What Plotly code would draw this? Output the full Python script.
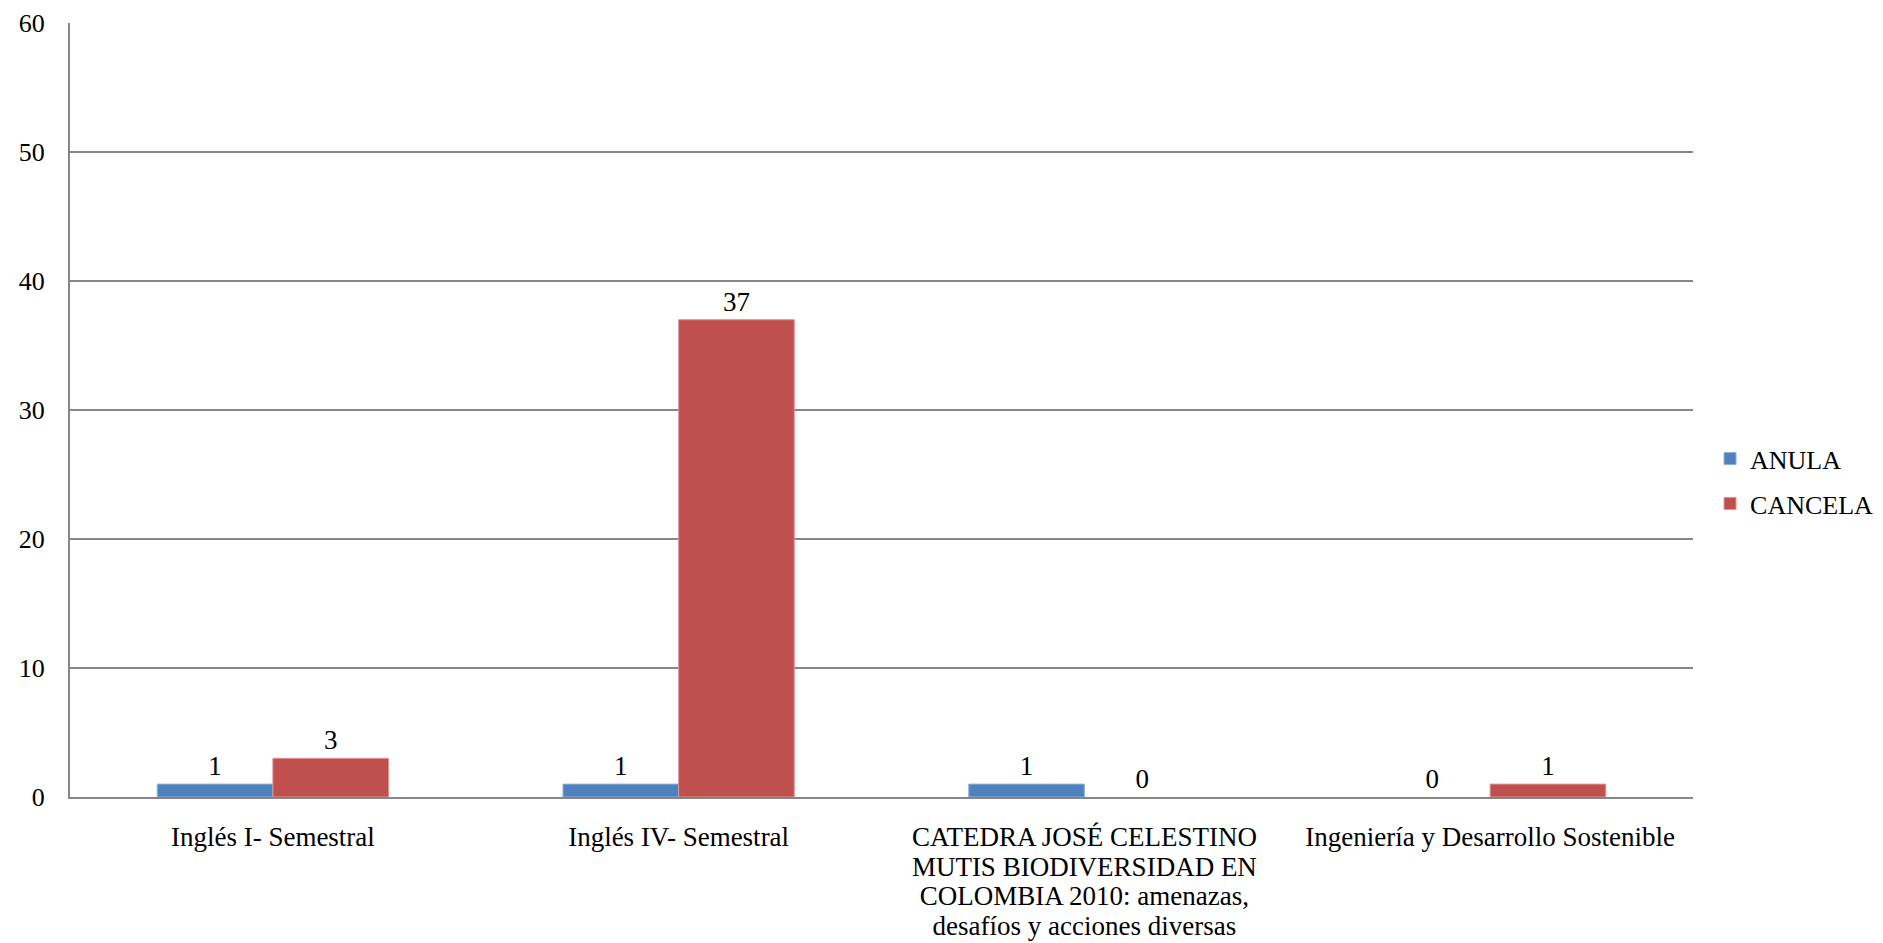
import plotly.graph_objects as go

categories = [
    "Inglés I- Semestral",
    "Inglés IV- Semestral",
    "CATEDRA JOSÉ CELESTINO<br>MUTIS BIODIVERSIDAD EN<br>COLOMBIA 2010: amenazas,<br>desafíos y acciones diversas",
    "Ingeniería y Desarrollo Sostenible",
]
anula = [1, 1, 1, 0]
cancela = [3, 37, 0, 1]
y_ticks = [0, 10, 20, 30, 40, 50, 60]

FONT = "Liberation Serif"
FS = 27


def edge_widths(vals):
    return [0 if v == 0 else 1 for v in vals]


def big(label):
    return "<br>".join('<span style="font-size:%dpx">%s</span>' % (FS, part) for part in label.split("<br>"))


fig = go.Figure()
fig.add_trace(go.Bar(name="ANULA", x=categories, y=anula, text=anula, legendgroup="a",
                     textposition="outside",
                     marker=dict(color="#4F81BD", line=dict(width=edge_widths(anula), color="#8FB0DA")),
                     textfont=dict(size=FS, color="black", family=FONT), cliponaxis=False))
fig.add_trace(go.Bar(name="CANCELA", x=categories, y=cancela, text=cancela, legendgroup="c",
                     textposition="outside",
                     marker=dict(color="#C0504D", line=dict(width=edge_widths(cancela), color="#DC9593")),
                     textfont=dict(size=FS, color="black", family=FONT), cliponaxis=False))

fig.update_layout(
    width=1883, height=943,
    margin=dict(l=62, r=198, t=15, b=154),
    barmode="group", bargap=0.43, bargroupgap=0,
    plot_bgcolor="white", paper_bgcolor="white",
    font=dict(family=FONT, size=FS, color="black"),
    showlegend=True,
    legend=dict(x=1.0105, y=0.408, xanchor="left", yanchor="middle",
                font=dict(size=26, family=FONT), itemwidth=30, tracegroupgap=8,
                traceorder="grouped", bgcolor="rgba(0,0,0,0)"),
)
fig.update_xaxes(showline=True, linecolor="#868686", linewidth=2, showgrid=False, automargin=False,
                 tickmode="array", tickvals=categories, ticktext=[big(c) for c in categories],
                 ticks="", ticklabelstandoff=19, tickangle=0, tickfont=dict(size=23, family=FONT))
fig.update_yaxes(range=[0, 60], tickvals=y_ticks, showline=True, linecolor="#868686", linewidth=2,
                 showgrid=True, gridcolor="#868686", gridwidth=1.5, zeroline=False, automargin=False,
                 ticklabeloverflow="allow",
                 ticks="", ticklabelstandoff=18, tickfont=dict(size=26))

fig.write_html("out.html")
